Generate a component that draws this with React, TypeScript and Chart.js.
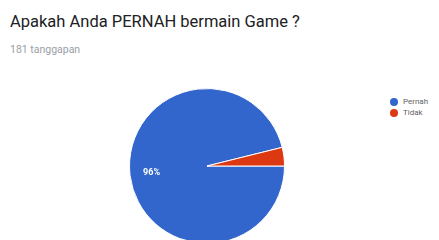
import React, { useEffect, useRef } from "react";
import { Chart, registerables } from "chart.js";

Chart.register(...registerables);

const TITLE = "Apakah Anda PERNAH bermain Game ?";
const SUBTITLE = "181 tanggapan";
const categories = ["Pernah", "Tidak"];
const values = [174, 7];
const colors = ["#3366cc", "#dc3912"];
const shownLabels = ["96%", ""];

const labelPlugin = {
  id: "sliceLabels",
  afterDatasetsDraw(chart: any) {
    const meta = chart.getDatasetMeta(0);
    const ctx = chart.ctx;
    ctx.save();
    ctx.fillStyle = "#ffffff";
    ctx.font = "bold 9px Roboto, Arial, sans-serif";
    ctx.textAlign = "center";
    ctx.textBaseline = "middle";
    meta.data.forEach((arc: any, i: number) => {
      const text = shownLabels[i];
      if (!text) return;
      const p = arc.getProps(["x", "y", "startAngle", "endAngle", "outerRadius"], true);
      const mid = (p.startAngle + p.endAngle) / 2;
      const r = p.outerRadius * 0.72;
      ctx.fillText(text, p.x + Math.cos(mid) * r, p.y + Math.sin(mid) * r);
    });
    ctx.restore();
  },
};

export default function App() {
  const ref = useRef<HTMLCanvasElement>(null);
  useEffect(() => {
    if (!ref.current) return;
    const chart = new Chart(ref.current, {
      type: "pie",
      data: {
        labels: categories,
        datasets: [
          {
            data: values,
            backgroundColor: colors,
            borderColor: "#ffffff",
            borderWidth: 1,
          },
        ],
      },
      options: {
        animation: false,
        responsive: false,
        rotation: 90,
        layout: { padding: 0 },
        plugins: {
          legend: { display: false },
          tooltip: { enabled: false },
        },
      },
      plugins: [labelPlugin],
    });
    return () => chart.destroy();
  }, []);

  return (
    <div
      style={{
        position: "fixed",
        left: 0,
        top: 0,
        width: 439,
        height: 240,
        overflow: "hidden",
        background: "#ffffff",
        fontFamily: "Roboto, Arial, sans-serif",
      }}
    >
      <div
        style={{
          position: "absolute",
          left: 10,
          top: 12,
          fontSize: 16.5,
          color: "#202124",
          whiteSpace: "nowrap",
        }}
      >
        {TITLE}
      </div>
      <div
        style={{
          position: "absolute",
          left: 10,
          top: 43,
          fontSize: 10.5,
          color: "#9aa0a6",
          whiteSpace: "nowrap",
        }}
      >
        {SUBTITLE}
      </div>
      <canvas
        ref={ref}
        width={156}
        height={156}
        style={{ position: "absolute", left: 129, top: 88, width: 156, height: 156 }}
      />
      <div style={{ position: "absolute", left: 390, top: 96 }}>
        {categories.map((c, i) => (
          <div
            key={c}
            style={{ display: "flex", alignItems: "center", height: 11, fontSize: 8, color: "#5f6368" }}
          >
            <span
              style={{
                display: "inline-block",
                width: 8,
                height: 8,
                borderRadius: 4,
                background: colors[i],
                marginRight: 5,
              }}
            />
            {c}
          </div>
        ))}
      </div>
    </div>
  );
}
